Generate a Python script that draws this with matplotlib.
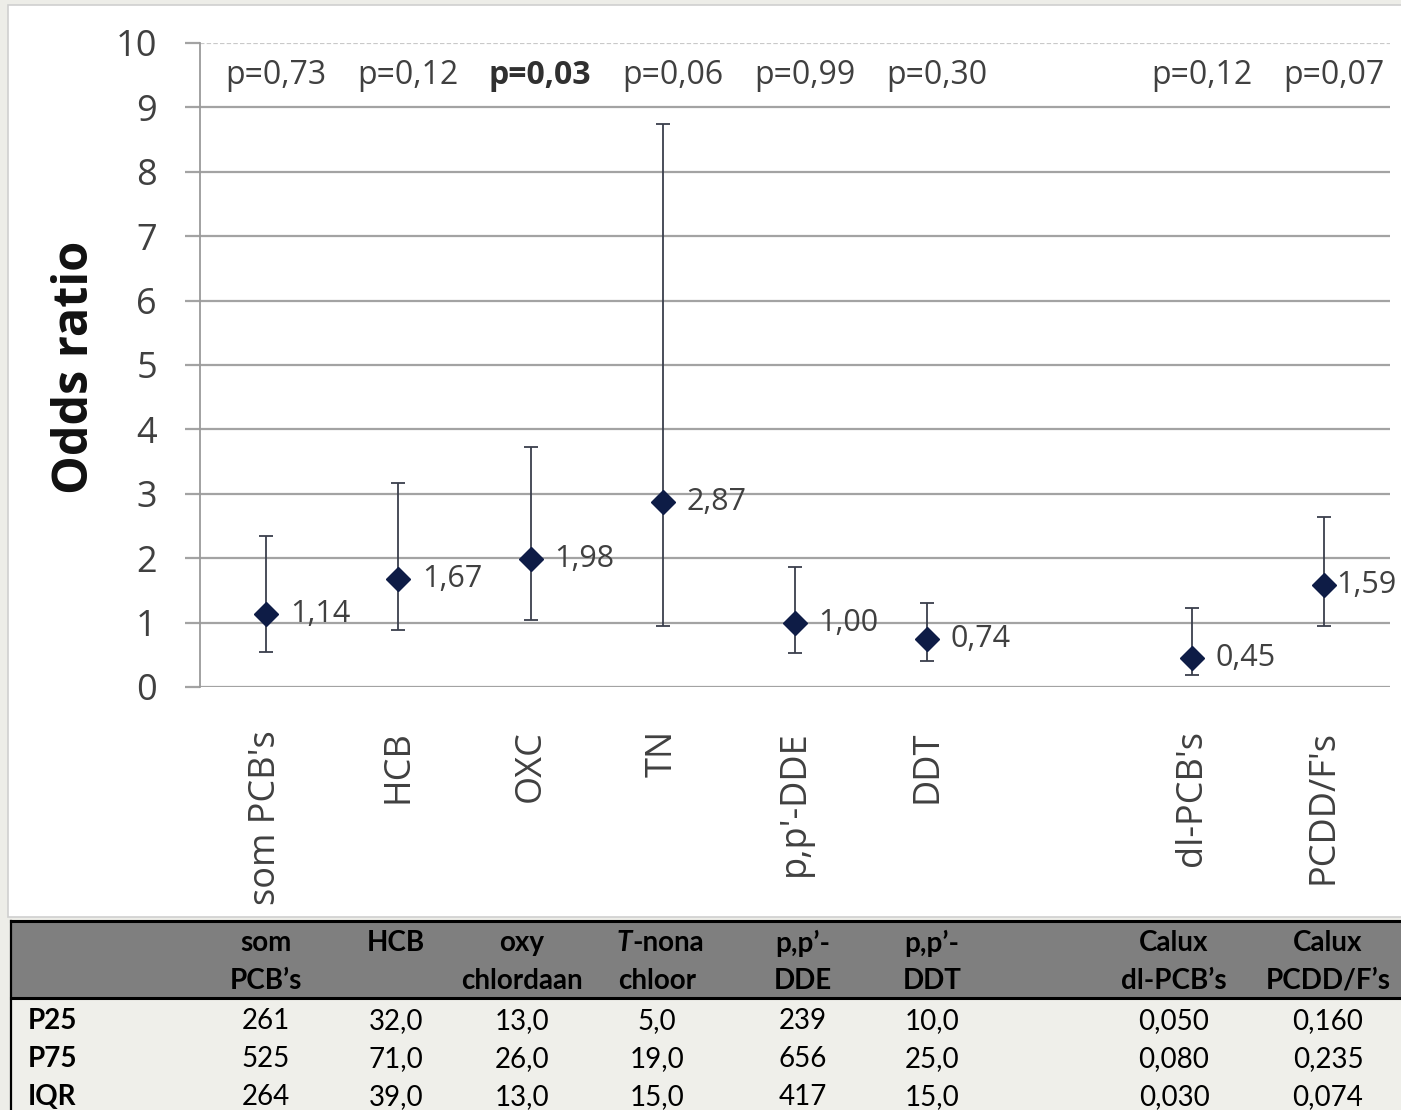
import numpy as np
import matplotlib
matplotlib.use("Agg")
import matplotlib.pyplot as plt
from matplotlib.patches import Rectangle

# ---- odds ratios with 95% CI per compound (blank slot separates the Calux assays)
categories = ["som PCB's", "HCB", "OXC", "TN", "p,p'-DDE", "DDT", "", "dl-PCB's", "PCDD/F's"]
odds_ratio = [1.14, 1.67, 1.98, 2.87, 1.00, 0.74, np.nan, 0.45, 1.59]
ci_lower = [0.54, 0.88, 1.04, 0.94, 0.53, 0.41, np.nan, 0.18, 0.95]
ci_upper = [2.35, 3.17, 3.72, 8.75, 1.86, 1.30, np.nan, 1.22, 2.64]
p_values = [0.73, 0.12, 0.03, 0.06, 0.99, 0.30, np.nan, 0.12, 0.07]
y_ticks = [0, 1, 2, 3, 4, 5, 6, 7, 8, 9, 10]

# ---- percentile table below the chart
table_head_1 = ["som", "HCB", "oxy", "T-nona", "p,p\u2019-", "p,p\u2019-", "Calux", "Calux"]
table_head_2 = ["PCB\u2019s", "", "chlordaan", "chloor", "DDE", "DDT", "dl-PCB\u2019s", "PCDD/F\u2019s"]
row_labels = ["P25", "P75", "IQR"]
p25 = [261, 32.0, 13.0, 5.0, 239, 10.0, 0.050, 0.160]
p75 = [525, 71.0, 26.0, 19.0, 656, 25.0, 0.080, 0.235]
iqr = [264, 39.0, 13.0, 15.0, 417, 15.0, 0.030, 0.074]
decimals = [0, 1, 1, 1, 0, 1, 3, 3]


def nl(v, d):
    return f"{v:.{d}f}".replace(".", ",")


W, H = 1401, 1110
fig = plt.figure(figsize=(W / 100, H / 100), dpi=100, facecolor="#ededE8")

# background layer in pixel coordinates
deco = fig.add_axes([0, 0, 1, 1], zorder=0)
deco.set_xlim(0, W)
deco.set_ylim(H, 0)
deco.axis("off")
deco.add_patch(Rectangle((8, 5), W, 912, facecolor="white", edgecolor="#cfcfcf", lw=1.2))

# ---- chart
ax = fig.add_axes([200 / W, 1 - 687 / H, 1190 / W, 644 / H], zorder=1)
ax.set_facecolor("none")
x = np.arange(len(categories))
ax.set_xlim(-0.5, len(categories) - 0.5)
ax.set_ylim(0, 10)

ax.set_yticks(y_ticks)
ax.yaxis.grid(True, color="#a3a3a3", lw=1.6)
ax.set_axisbelow(True)
for spine in ["top", "right", "bottom"]:
    ax.spines[spine].set_visible(False)
ax.spines["left"].set_color("#9a9a9a")
ax.spines["left"].set_linewidth(1.3)
ax.tick_params(axis="y", length=11, width=1.6, color="#a3a3a3", pad=20,
               labelsize=26, labelcolor="#404040")
for lbl in ax.get_yticklabels():
    lbl.set_fontfamily("Open Sans")
gl = ax.get_ygridlines()
gl[-1].set_color("#c9c9c9")
gl[-1].set_linestyle((0, (2, 1)))

ax.set_xticks(x)
ax.set_xticklabels(categories, rotation=90, va="top", ha="center",
                   fontsize=26, color="#404040", family="Open Sans")
ax.tick_params(axis="x", length=0, pad=31)

odds = np.array(odds_ratio)
err = np.vstack([odds - np.array(ci_lower), np.array(ci_upper) - odds])
ax.errorbar(x, odds, yerr=err, fmt="none", ecolor="#3a3f4c", elinewidth=1.3,
            capsize=5, capthick=1.3, zorder=3)
ax.plot(x, odds, ls="none", marker="D", markersize=12, color="#0e1c46", zorder=4)

last = len(categories) - 1
for xi, v in zip(x, odds_ratio):
    if np.isnan(v):
        continue
    # the right-most label sits closer to its marker so it stays on the canvas
    dx = 9 if xi == last else 17
    ax.annotate(nl(v, 2), (xi, v), xytext=(dx, 0), textcoords="offset points",
                va="center", ha="left", fontsize=22, color="#404040",
                family="Open Sans", annotation_clip=False)

for xi, p in zip(x, p_values):
    if np.isnan(p):
        continue
    ax.annotate("p=" + nl(p, 2), (xi, 9.5), xytext=(7, 0), textcoords="offset points",
                ha="center", va="center", fontsize=23,
                color="#303030" if p < 0.05 else "#404040",
                weight="bold" if p < 0.05 else "normal", family="Open Sans")

fig.text(76 / W, 1 - 367 / H, "Odds ratio", rotation=90, ha="center", va="center",
         fontsize=35, weight="bold", family="Open Sans", color="#111111")

# ---- table
tab = fig.add_axes([0, 0, 1, 1], zorder=3)
tab.set_xlim(0, W)
tab.set_ylim(H, 0)
tab.axis("off")
tab.set_facecolor("none")
tab.add_patch(Rectangle((11, 921), W, 77, facecolor="#7f7f7f", edgecolor="none"))
tab.add_patch(Rectangle((11, 998), W, H - 998, facecolor="#efefea", edgecolor="none"))
tab.plot([11, W], [921, 921], color="black", lw=2.2)
tab.plot([11, W], [998, 998], color="black", lw=2.2)
tab.plot([11, 11], [921, H], color="black", lw=1.6)

col_x = [266, 396, 522, 657, 803, 932, 1174, 1328]
tfont = dict(family="Lato", fontsize=20, color="black")
for cx, h1, h2 in zip(col_x, table_head_1, table_head_2):
    if h1.startswith("T-"):
        t = tab.text(cx - 40, 943, "T", ha="left", va="center", weight="bold",
                     style="italic", **tfont)
        tab.annotate(h1[1:], xy=(1, 0), xycoords=t, va="bottom", ha="left",
                     weight="bold", **tfont)
    else:
        tab.text(cx, 943, h1, ha="center", va="center", weight="bold", **tfont)
    tab.text(cx, 981, h2, ha="center", va="center", weight="bold", **tfont)

row_y = [1021, 1059, 1097]
for ry, name, vals in zip(row_y, row_labels, [p25, p75, iqr]):
    tab.text(28, ry, name, ha="left", va="center", weight="bold", **tfont)
    for cx, v, d in zip(col_x, vals, decimals):
        tab.text(cx, ry, nl(v, d), ha="center", va="center", **tfont)

fig.savefig("out.png", dpi=100, facecolor=fig.get_facecolor())
